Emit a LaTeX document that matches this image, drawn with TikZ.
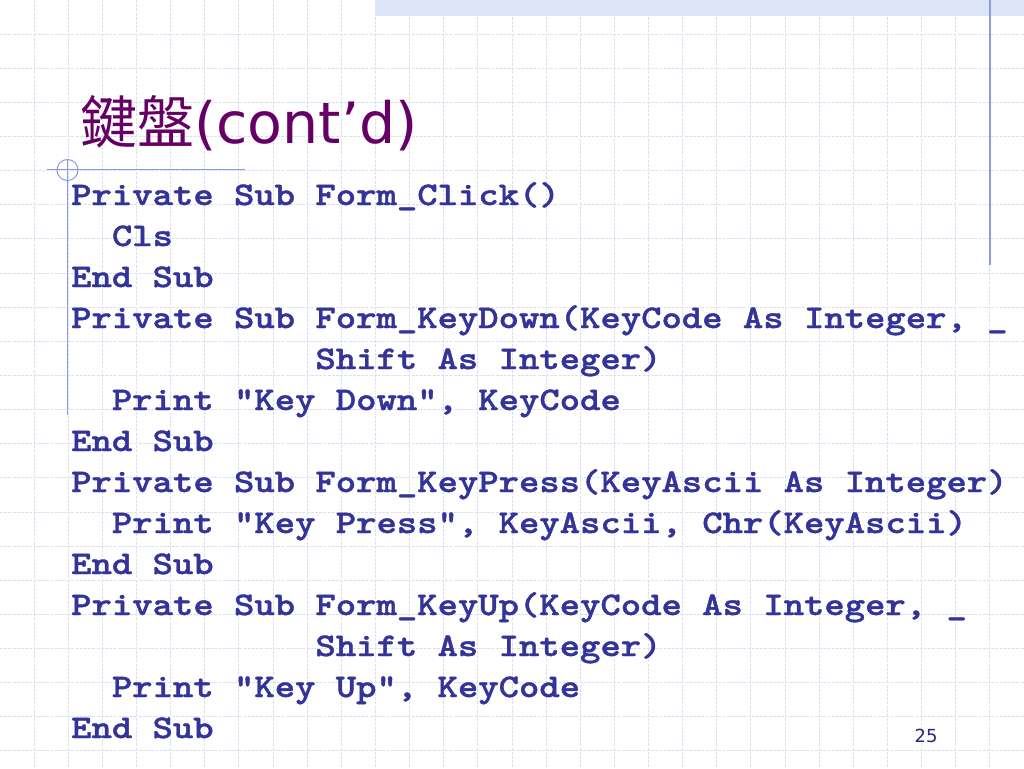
\documentclass[tikz,border=0pt]{standalone}
\usepackage{fontspec}
\setmainfont{DejaVu Sans}
\newfontfamily\cjkfont{Noto Sans CJK TC}
\newfontfamily\codefont[Extension=.otf,FakeStretch=1.175,FakeBold=1.2]{lmmonolt10-bold}
\newfontfamily\titlefont{DejaVu Sans}
\definecolor{codeblue}{HTML}{333399}
\definecolor{titlepurple}{HTML}{660066}
\definecolor{gridcol}{HTML}{DCE0F2}
\definecolor{rulecol}{HTML}{8A9BE0}
\definecolor{barcol}{HTML}{DCE4F8}
\begin{document}
\begin{tikzpicture}[x=1pt,y=-1pt,
  gridline/.style={draw=gridcol,line width=0.9pt,dash pattern=on 3pt off 1.2pt},
  ruleline/.style={draw=rulecol,line width=1pt},
  codeline/.style={anchor=base west,inner sep=0pt,text=codeblue,font=\codefont\fontsize{33}{40}\selectfont},
  titletext/.style={anchor=base west,inner sep=0pt,text=titlepurple},
  pagenum/.style={anchor=base,inner sep=0pt,text=codeblue!80!black,font=\fontsize{18}{20}\selectfont}]
\useasboundingbox (0,0) rectangle (1024,768);
\fill[white] (0,0) rectangle (1024,768);
% grid
\foreach \i in {1,...,29} {\draw[gridline] ({\i*34.133},0) -- ({\i*34.133},768);}
\foreach \j in {1,...,22} {\draw[gridline] (0,{\j*34.133}) -- (1024,{\j*34.133});}
% top bar
\fill[barcol] (375,0) rectangle (1024,16);
% right rule
\draw[ruleline,line width=1.5pt] (990,0) -- (990,265);
% left ornament
\draw[ruleline] (47,169) -- (245,169);
\draw[ruleline] (67,160) -- (67,415);
\draw[ruleline] (67.5,170) circle (10.5);
% title
\node[titletext] (title) at (80,143) {{\cjkfont\fontsize{57}{60}\selectfont 鍵盤}{\titlefont\fontsize{57}{60}\selectfont (cont’d)}};
% code
\node[codeline] (l1) at (71,205) {Private Sub Form\_Click()};
\node[codeline] (l2) at (71,246) {\ \ Cls};
\node[codeline] (l3) at (71,287) {End Sub};
\node[codeline] (l4) at (71,328) {Private Sub Form\_KeyDown(KeyCode As Integer, \_};
\node[codeline] (l5) at (71,369) {\hphantom{Private Sub }Shift As Integer)};
\node[codeline] (l6) at (71,410) {\ \ Print "Key Down", KeyCode};
\node[codeline] (l7) at (71,451) {End Sub};
\node[codeline] (l8) at (71,492) {Private Sub Form\_KeyPress(KeyAscii As Integer)};
\node[codeline] (l9) at (71,533) {\ \ Print "Key Press", KeyAscii, Chr(KeyAscii)};
\node[codeline] (l10) at (71,574) {End Sub};
\node[codeline] (l11) at (71,615) {Private Sub Form\_KeyUp(KeyCode As Integer, \_};
\node[codeline] (l12) at (71,656) {\hphantom{Private Sub }Shift As Integer)};
\node[codeline] (l13) at (71,697) {\ \ Print "Key Up", KeyCode};
\node[codeline] (l14) at (71,738) {End Sub};
% page number
\node[pagenum] (pn) at (926,742) {25};
\end{tikzpicture}
\end{document}
